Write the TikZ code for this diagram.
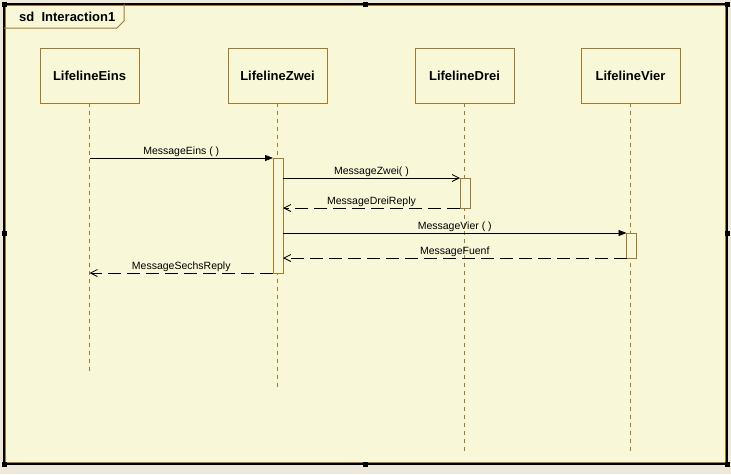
\documentclass[tikz,border=0pt]{standalone}
\usepackage{fontspec}
\setmainfont{Liberation Sans}
\usetikzlibrary{arrows.meta}
\definecolor{bgout}{HTML}{ECE9D8}
\definecolor{bgin}{HTML}{F8F8D8}
\definecolor{umlbrown}{HTML}{A07A30}
\tikzset{
  lifebox/.style={draw=umlbrown, line width=1pt, fill=bgin, minimum width=99pt, minimum height=55pt, inner sep=0pt, outer sep=0pt, font=\fontsize{13}{15}\selectfont\bfseries},
  lifeline/.style={draw=umlbrown, line width=1pt, dash pattern=on 4pt off 4pt},
  actbar/.style={draw=umlbrown, line width=1pt, fill=bgin, minimum width=10pt, inner sep=0pt, outer sep=0pt},
  syncmsg/.style={draw=black, line width=0.8pt, -{Triangle[length=8pt,width=6pt]}},
  callmsg/.style={draw=black, line width=0.8pt, -{Straight Barb[length=7pt,width=7pt,line width=0.8pt]}},
  replymsg/.style={draw=black, line width=0.8pt, dash pattern=on 13pt off 6pt, -{Straight Barb[length=7pt,width=7pt,line width=0.8pt]}},
  msglabel/.style={font=\fontsize{10.5}{12}\selectfont, anchor=base, yshift=3.5pt, inner sep=0pt},
  handle/.style={fill=black, minimum size=5pt, inner sep=0pt},
}
\begin{document}
\begin{tikzpicture}[x=1pt,y=-1pt]
\useasboundingbox (0,0) rectangle (731,474);
\fill[bgout] (0,0) rectangle (731,474);
% frame
\fill[bgin] (4,4) rectangle (727,464);
\draw[umlbrown, line width=1pt] (5.5,5.5) rectangle (725.5,462.5);
\draw[black, line width=1.2pt] (4,4) rectangle (727,464);
% title tab
\draw[umlbrown, line width=1pt] (4,28) -- (117,28) -- (124,21) -- (124,4);
\node[font=\fontsize{13}{15}\selectfont\bfseries, anchor=west, inner sep=0pt] (title) at (19,16.5) {sd\ \ Interaction1};
% lifelines heads
\node[lifebox] (eins) at (89.5,75.5) {LifelineEins};
\node[lifebox] (zwei) at (277.5,75.5) {LifelineZwei};
\node[lifebox] (drei) at (464.5,75.5) {LifelineDrei};
\node[lifebox] (vier) at (630.5,75.5) {LifelineVier};
% lifeline ends
\coordinate (einsEnd) at (89.5,372);
\coordinate (zweiEnd) at (277.5,388);
\coordinate (dreiEnd) at (464.5,452);
\coordinate (vierEnd) at (630.5,452);
\draw[lifeline] (eins.south) -- (einsEnd);
\draw[lifeline] (zwei.south) -- (zweiEnd);
\draw[lifeline] (drei.south) -- (dreiEnd);
\draw[lifeline] (vier.south) -- (vierEnd);
% activation bars
\node[actbar, minimum height=115pt, anchor=north] (actZwei) at (278,158) {};
\node[actbar, minimum height=30pt, anchor=north] (actDrei) at (465,178) {};
\node[actbar, minimum height=25pt, anchor=north] (actVier) at (631.5,233) {};
% message end points
\coordinate (m1s) at (89.5,158);
\coordinate (m1e) at (actZwei.north west);
\coordinate (m2s) at (actZwei.east |- 0,178);
\coordinate (m2e) at (actDrei.north west);
\coordinate (m3s) at (actDrei.south west);
\coordinate (m3e) at (actZwei.east |- 0,208);
\coordinate (m4s) at (actZwei.east |- 0,233);
\coordinate (m4e) at (actVier.north west);
\coordinate (m5s) at (actVier.south west);
\coordinate (m5e) at (actZwei.east |- 0,258);
\coordinate (m6s) at (actZwei.south west);
\coordinate (m6e) at (89.5,273);
% messages
\draw[syncmsg] (m1s) -- (m1e) node[msglabel, midway] (l1) {MessageEins ( )};
\draw[callmsg] (m2s) -- (m2e) node[msglabel, midway] (l2) {MessageZwei( )};
\draw[replymsg] (m3s) -- (m3e) node[msglabel, midway] (l3) {MessageDreiReply};
\draw[syncmsg] (m4s) -- (m4e) node[msglabel, midway] (l4) {MessageVier ( )};
\draw[replymsg] (m5s) -- (m5e) node[msglabel, midway] (l5) {MessageFuenf};
\draw[replymsg] (m6s) -- (m6e) node[msglabel, midway] (l6) {MessageSechsReply};
% selection handles
\node[handle] (h1) at (4,4) {};
\node[handle] (h2) at (365.5,4) {};
\node[handle] (h3) at (727,4) {};
\node[handle] (h4) at (4,233) {};
\node[handle] (h5) at (727,233) {};
\node[handle] (h6) at (4,464) {};
\node[handle] (h7) at (365.5,464) {};
\node[handle] (h8) at (727,464) {};
\end{tikzpicture}
\end{document}
